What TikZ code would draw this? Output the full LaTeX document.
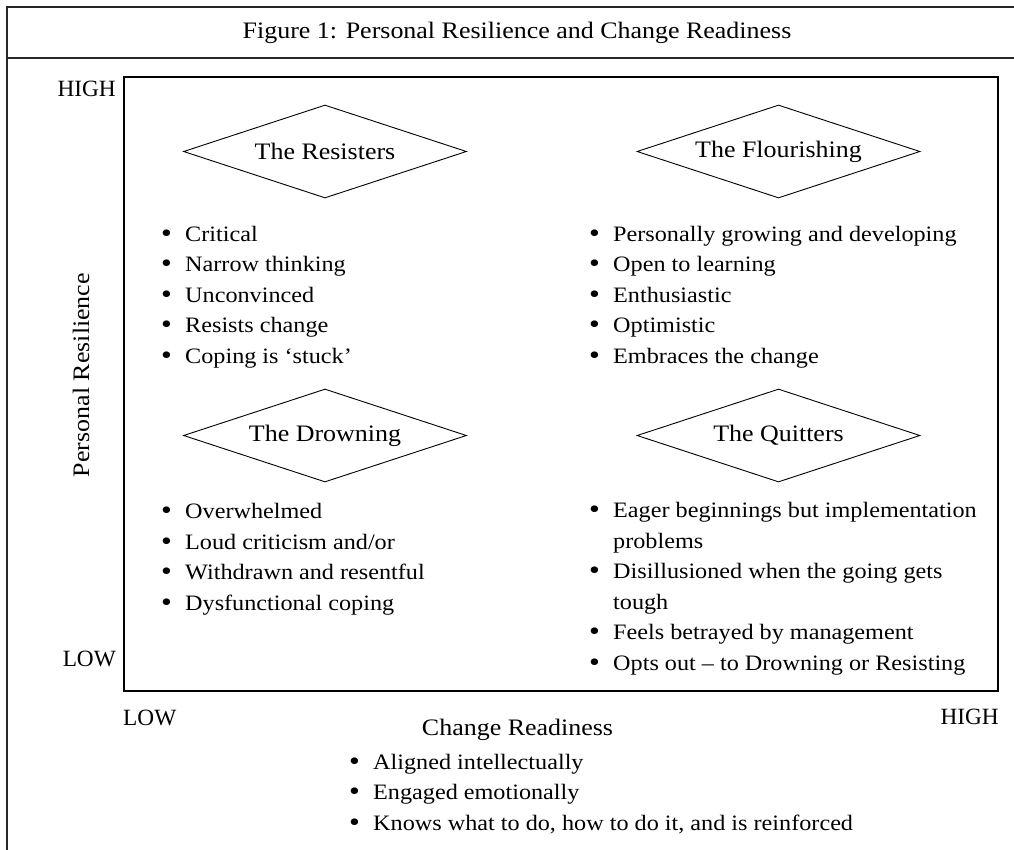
\documentclass[tikz,border=0pt]{standalone}
\usepackage{fontspec}
\setmainfont{Liberation Serif}[FakeStretch=1.1]
\newfontfamily\axisfont{Liberation Serif}
\usetikzlibrary{shapes.geometric}
\newcommand{\bpt}[1]{\makebox[24pt][l]{\raisebox{-1.3pt}{\fontsize{28}{28}\selectfont\textbullet}}#1}
\begin{document}
\begin{tikzpicture}[x=1pt,y=-1pt,
  frame/.style={draw=black!85, line width=1.4pt},
  quad/.style={draw, shape=diamond, aspect=3.04, minimum width=283pt, minimum height=93pt,
    inner sep=0pt, line width=0.9pt, font=\fontsize{23.6}{28}\selectfont},
  blist/.style={anchor=base west, align=left, inner sep=0pt,
    font=\fontsize{22}{30.5}\selectfont},
  axisword/.style={inner sep=0pt, font=\axisfont\fontsize{23.3}{28}\selectfont},
  axistitle/.style={inner sep=0pt, font=\fontsize{23.6}{28}\selectfont}]
\useasboundingbox (0,0) rectangle (1014,849);
\clip (0,0) rectangle (1014,849);
% outer frame and title row
\draw[frame] (7,7) rectangle (1027,900);
\draw[frame] (7,58) -- (1027,58);
\node[axistitle, anchor=base] (title) at (517,38) {Figure 1: Personal Resilience and Change Readiness};
% matrix box
\draw[line width=1.2pt] (124,77) rectangle (998,691);
% axis words
\node[axisword, anchor=base east] (yhigh) at (116,96) {HIGH};
\node[axisword, anchor=base east] (ylow) at (116,666) {LOW};
\node[axisword, anchor=base west] (xlow) at (123,725) {LOW};
\node[axisword, anchor=base east] (xhigh) at (999,724) {HIGH};
\node[axistitle, anchor=base] (xtitle) at (517.5,735) {Change Readiness};
\node[axistitle, anchor=base, rotate=90] (ytitle) at (89,375) {Personal Resilience};
% diamonds
\node[quad] (resist) at (325,151.5) {The Resisters};
\node[quad] (flour) at (778.5,151.5) {The Flourishing};
\node[quad] (drown) at (325,435.5) {The Drowning};
\node[quad] (quit) at (778.5,435.5) {The Quitters};
% lists (anchored at the baseline of their last line)
\node[blist] (lresist) at (161,363) {\bpt{Critical}\\ \bpt{Narrow thinking}\\ \bpt{Unconvinced}\\ \bpt{Resists change}\\ \bpt{Coping is ‘stuck’}};
\node[blist] (lflour) at (589,363) {\bpt{Personally growing and developing}\\ \bpt{Open to learning}\\ \bpt{Enthusiastic}\\ \bpt{Optimistic}\\ \bpt{Embraces the change}};
\node[blist] (ldrown) at (161,610) {\bpt{Overwhelmed}\\ \bpt{Loud criticism and/or}\\ \bpt{Withdrawn and resentful}\\ \bpt{Dysfunctional coping}};
\node[blist] (lquit) at (589,670) {\bpt{Eager beginnings but implementation}\\ \hspace*{24pt}problems\\ \bpt{Disillusioned when the going gets}\\ \hspace*{24pt}tough\\ \bpt{Feels betrayed by management}\\ \bpt{Opts out -- to Drowning or Resisting}};
\node[blist] (lready) at (349,830) {\bpt{Aligned intellectually}\\ \bpt{Engaged emotionally}\\ \bpt{Knows what to do, how to do it, and is reinforced}};
\end{tikzpicture}
\end{document}
